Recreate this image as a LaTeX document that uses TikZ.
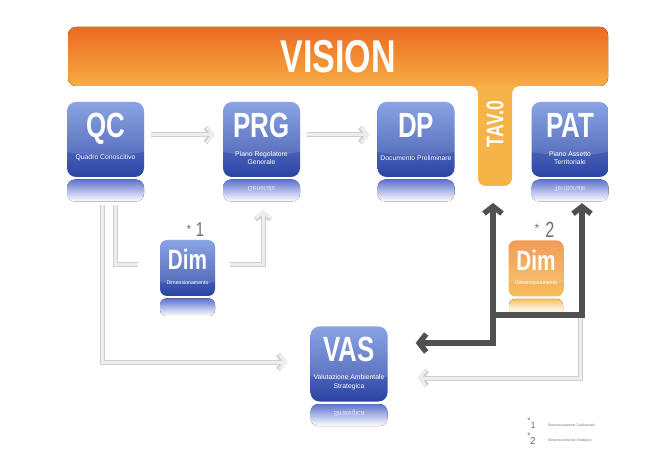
\documentclass[tikz,border=0pt]{standalone}
\usepackage{fontspec}
\setmainfont{Liberation Sans}
\newfontfamily\condf[FakeStretch=0.74]{Liberation Sans}
\usetikzlibrary{arrows.meta,calc}
\definecolor{btop}{HTML}{7896E0}
\definecolor{bmid}{HTML}{4262C4}
\definecolor{bbot}{HTML}{2C44A2}
\definecolor{brefl}{HTML}{5E72CE}
\definecolor{otop}{HTML}{EC6A22}
\definecolor{obot}{HTML}{F6AC44}
\definecolor{ostem}{HTML}{F6B347}
\definecolor{dimtop}{HTML}{EE8E3E}
\definecolor{dimbot}{HTML}{F7BF5E}
\definecolor{darkarr}{HTML}{505050}
\definecolor{lightarr}{HTML}{EDEDED}
\definecolor{lightedge}{HTML}{CFCFCF}
\definecolor{marks}{HTML}{707070}
\begin{document}
\begin{tikzpicture}[x=1pt,y=-1pt,
  bluebox/.style={rectangle, rounded corners=9pt, minimum width=77pt, minimum height=75pt,
    inner sep=0pt, top color=btop, middle color=bmid, bottom color=bbot, draw=none},
  dimbox/.style={rectangle, rounded corners=7pt, minimum width=55pt, minimum height=56pt,
    inner sep=0pt, draw=none},
  title/.style={text=white, font=\condf\bfseries\fontsize{35}{35}\selectfont, inner sep=0pt, anchor=base},
  dimtitle/.style={text=white, font=\condf\bfseries\fontsize{28}{28}\selectfont, inner sep=0pt, anchor=base},
  sub/.style={text=white, font=\fontsize{6.8}{8.8}\selectfont, inner sep=0pt, align=center},
  dimsub/.style={text=white, font=\fontsize{5.2}{6}\selectfont, inner sep=0pt},
  mirror/.style={text=white, font=\fontsize{6.8}{8.8}\selectfont, inner sep=0pt, opacity=0.75},
  refl/.style={top color=brefl, middle color=brefl!30!white, bottom color=white, rounded corners=8pt},
  lightarrow/.style={draw=lightarr, line width=3pt,
    preaction={draw=lightedge, line width=5pt}},
  lighthead/.style={-{Straight Barb[length=6pt,width=15pt]}},
  darkarrow/.style={draw=darkarr, line width=5.5pt},
  legend/.style={text=marks, font=\fontsize{3.4}{4}\selectfont, inner sep=0pt, anchor=west},
  markstyle/.style={text=marks, inner sep=0pt}
]
\path[use as bounding box, fill=white] (0,0) rectangle (648,462);

% ---------- VISION bar with TAV.0 stem ----------
\fill[ostem, rounded corners=8pt] (68,27) -- (608,27) -- (608,86) -- (512,86) -- (512,186)
  -- (478,186) -- (478,86) -- (68,86) -- cycle;
\fill[top color=otop, bottom color=obot, rounded corners=8pt] (68,27) rectangle (608,86);
\node[text=white, font=\condf\bfseries\fontsize{46}{46}\selectfont, inner sep=0pt] (vision) at (338,57) {VISION};
\node[text=white, font=\condf\bfseries\fontsize{24}{24}\selectfont, inner sep=0pt, rotate=90] (tav0) at (495,124) {TAV.0};
\coordinate (tav) at (495,186);

% ---------- reflections ----------
\foreach \cx/\cy in {105.5/139.5, 261.5/139.5, 416/139.5, 570/139.5, 349/364}{
  \fill[refl] (\cx-38.5,\cy+40) rectangle (\cx+38.5,\cy+62);
}
\fill[refl, rounded corners=6pt] (160,298.5) rectangle (215,316);
\fill[refl, top color=dimbot, middle color=dimbot!30!white, rounded corners=6pt] (509,299) rectangle (563,316);

% ---------- blue boxes ----------
\node[bluebox] (QC)  at (105.5,139.5) {};
\node[bluebox] (PRG) at (261.5,139.5) {};
\node[bluebox] (DP)  at (416,139.5) {};
\node[bluebox] (PAT) at (570,139.5) {};
\node[bluebox] (VAS) at (349,364) {};
\node[dimbox, top color=btop, middle color=bmid, bottom color=bbot] (Dim1) at (187.5,268) {};
\node[dimbox, top color=dimtop, bottom color=dimbot] (Dim2) at (536,268.5) {};

% gloss
\foreach \n in {QC,PRG,DP,PAT,VAS,Dim1,Dim2}{
  \begin{scope}
    \clip[rounded corners=8pt] (\n.north west) rectangle (\n.south east);
    \fill[white, opacity=0.13] ([yshift=14pt]\n.center) ellipse [x radius=80pt, y radius=30pt];
  \end{scope}
}

% titles
\node[title] (QCt)  at (105.5,138) {QC};
\node[title] (PRGt) at (261.5,138) {PRG};
\node[title] (DPt)  at (416,138) {DP};
\node[title] (PATt) at (570,138) {PAT};
\node[title] (VASt) at (349,362) {VAS};
\node[dimtitle] (Dim1t) at (187.5,270) {Dim};
\node[dimtitle] (Dim2t) at (536,270.5) {Dim};

% subtitles
\node[sub] (QCs)  at (105.5,158) {Quadro Conoscitivo};
\node[sub] (PRGs) at (261.5,158) {Piano Regolatore\\Generale};
\node[sub] (DPs)  at (416,158) {Documento Preliminare};
\node[sub] (PATs) at (570,158) {Piano Assetto\\Territoriale};
\node[sub] (VASs) at (349,382) {Valutazione Ambientale\\Strategica};
\node[dimsub] (Dim1s) at (187.5,282.5) {Dimensionamento};
\node[dimsub] (Dim2s) at (536,283) {Dimensionamento};

% mirrored texts in reflections
\node[mirror] (PRGm) at (261.5,189) {\scalebox{1}[-1]{Generale}};
\node[mirror] (PATm) at (570,189) {\scalebox{1}[-1]{Territoriale}};
\node[mirror] (VASm) at (349,413.5) {\scalebox{1}[-1]{Strategica}};

% ---------- light connectors ----------
\draw[lightarrow, lighthead] ([xshift=7pt,yshift=4.5pt]QC.east) -- ([xshift=-8pt,yshift=4.5pt]PRG.west);
\draw[lightarrow, lighthead] ([xshift=7pt,yshift=4.5pt]PRG.east) -- ([xshift=-8pt,yshift=4.5pt]DP.west);
\draw[lightarrow] ([xshift=9.5pt,yshift=-28pt]QC.south) |- ([xshift=-22pt,yshift=3pt]Dim1.west);
\draw[lightarrow, lighthead] ([xshift=15pt,yshift=3pt]Dim1.east) -| ([xshift=1.5pt,yshift=-33pt]PRG.south);
\draw[lightarrow, lighthead] ([xshift=-3.5pt,yshift=-28pt]QC.south) |- ([xshift=-23pt,yshift=2pt]VAS.west);
\draw[lightarrow, lighthead] ([xshift=10pt,yshift=-141pt]PAT.south) |- ([xshift=30pt,yshift=-14pt]VAS.east);

% ---------- dark connectors ----------
\coordinate (junc) at (493,315);
\draw[darkarrow, {Straight Barb[length=7pt,width=18pt]}-{Straight Barb[length=7pt,width=18pt]}]
  ([xshift=28pt,yshift=21pt]VAS.east) -| ([xshift=-2pt,yshift=-17pt]tav);
\draw[darkarrow, -{Straight Barb[length=7pt,width=18pt]}] (junc) -| ([xshift=12pt,yshift=-26pt]PAT.south);

% ---------- markers ----------
\node[markstyle, font=\fontsize{12}{12}\selectfont] (st1) at (189,229) {*};
\node[markstyle, font=\condf\fontsize{20}{20}\selectfont] (n1) at (200,230) {1};
\node[markstyle, font=\fontsize{12}{12}\selectfont] (st2) at (537,228) {*};
\node[markstyle, font=\condf\fontsize{22}{22}\selectfont] (n2) at (550,230) {2};

% ---------- legend ----------
\node[markstyle, font=\fontsize{8}{8}\selectfont] (lst1) at (529,421) {*};
\node[markstyle, font=\fontsize{9}{9}\selectfont] (ln1) at (533,425) {1};
\node[legend] (leg1) at (548,425) {Dimensionamento Tradizionale};
\node[markstyle, font=\fontsize{8}{8}\selectfont] (lst2) at (529,436) {*};
\node[markstyle, font=\fontsize{10}{10}\selectfont] (ln2) at (533,441) {2};
\node[legend] (leg2) at (548,441) {Dimensionamento Strategico};
\end{tikzpicture}
\end{document}
